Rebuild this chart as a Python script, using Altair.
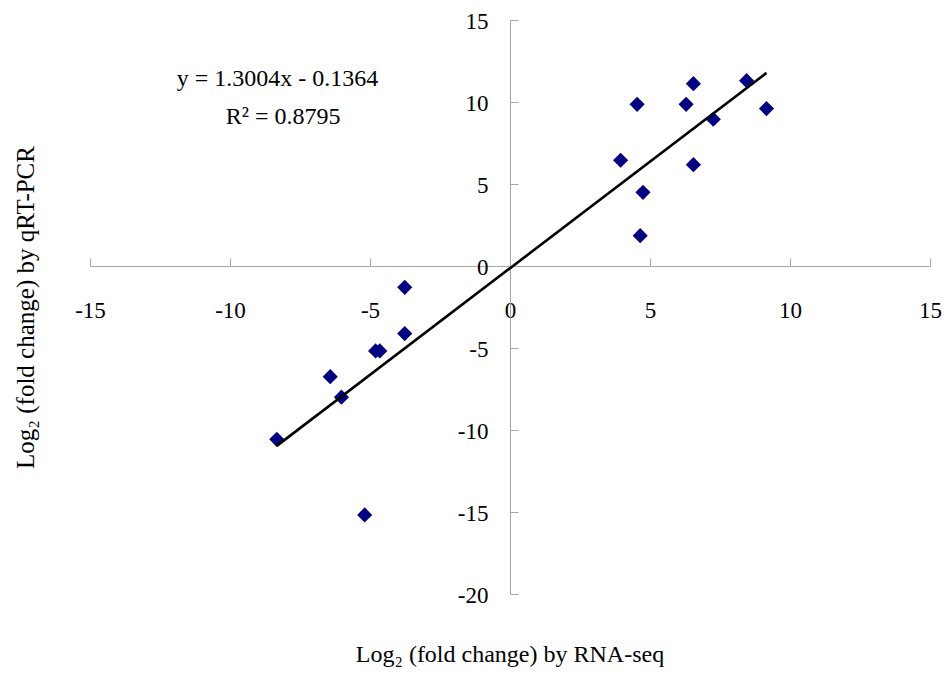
import altair as alt
import pandas as pd

# ---- data ----
rna_seq = [4.54, 6.55, 8.45, 6.29, 7.26, 9.16, 3.95, 6.55, 4.75, 4.65,
           -3.76, -3.76, -4.80, -4.65, -6.42, -6.02, -8.33, -5.19]
qrt_pcr = [9.86, 11.12, 11.30, 9.86, 8.95, 9.60, 6.45, 6.18, 4.49, 1.85,
           -1.30, -4.12, -5.18, -5.18, -6.75, -8.00, -10.57, -15.18]
x_ticks = [-15, -10, -5, 0, 5, 10, 15]
y_ticks = [-20, -15, -10, -5, 0, 5, 10, 15]
slope = 1.3004
intercept = -0.1364
eq_lines = ["y = 1.3004x - 0.1364", "R\u00b2 = 0.8795"]
eq_x = [-8.3, -8.1]
eq_y = [11.4, 9.1]

X_DOMAIN = [-15, 15]
Y_DOMAIN = [-20, 15]
W, H = 840, 574
FONT = "Liberation Serif"
AXIS_GRAY = "#a6a6a6"

df = pd.DataFrame({"x": rna_seq, "y": qrt_pcr})
line_df = pd.DataFrame({"x": [min(rna_seq), max(rna_seq)]})
line_df["y"] = slope * line_df["x"] + intercept
eq_df = pd.DataFrame({"label": eq_lines, "x": eq_x, "y": eq_y})

xscale = alt.Scale(domain=X_DOMAIN, nice=False, zero=False)
yscale = alt.Scale(domain=Y_DOMAIN, nice=False, zero=False)

# axes crossing at the origin
x_axis_offset = -H * (Y_DOMAIN[1] - 0) / (Y_DOMAIN[1] - Y_DOMAIN[0])
y_axis_offset = -W * (X_DOMAIN[1] - 0) / (X_DOMAIN[1] - X_DOMAIN[0])

x_axis = alt.Axis(
    orient="top", offset=x_axis_offset, values=x_ticks, title=None,
    grid=False, domainColor=AXIS_GRAY, tickColor=AXIS_GRAY, tickSize=8,
    labelFont=FONT, labelFontSize=23, labelColor="black",
    labelBaseline="middle", labelPadding=-52, labelAngle=0,
    labelFlush=False, labelOverlap=False, labelExpr="datum.value + ''",
)
y_axis = alt.Axis(
    orient="right", offset=y_axis_offset, values=y_ticks, title=None,
    grid=False, domainColor=AXIS_GRAY, tickColor=AXIS_GRAY, tickSize=8,
    labelFont=FONT, labelFontSize=23, labelColor="black",
    labelAlign="right", labelBaseline="middle", labelPadding=-30,
    labelOffset=1, labelFlush=False, labelOverlap=False,
    labelExpr="datum.value + ''",
)
y_title_axis = alt.Axis(
    orient="left", title="Log\u2082 (fold change) by qRT-PCR",
    titleFont=FONT, titleFontSize=25, titleFontWeight="normal",
    titleColor="black", titlePadding=52,
    labels=False, ticks=False, domain=False, grid=False,
)

points = alt.Chart(df).mark_point(
    shape="diamond", filled=True, size=230, color="#000080", opacity=1
).encode(
    x=alt.X("x:Q", scale=xscale, axis=x_axis),
    y=alt.Y("y:Q", scale=yscale, axis=y_axis),
)

trend = alt.Chart(line_df).mark_line(color="black", strokeWidth=2.6).encode(
    x=alt.X("x:Q", scale=xscale, axis=x_axis),
    y=alt.Y("y:Q", scale=yscale, axis=y_title_axis),
)

eq = alt.Chart(eq_df).mark_text(
    font=FONT, fontSize=24, color="black", align="center", baseline="middle"
).encode(
    x=alt.X("x:Q", scale=xscale, axis=x_axis),
    y=alt.Y("y:Q", scale=yscale, axis=None),
    text="label:N",
)

chart = alt.layer(points, trend, eq).resolve_axis(y="independent").properties(
    width=W, height=H,
    title=alt.TitleParams(
        text="Log\u2082 (fold change) by RNA-seq", orient="bottom",
        font=FONT, fontSize=24, fontWeight="normal", color="black",
        anchor="middle", offset=36,
    ),
    padding={"left": 5, "top": 2, "right": 0, "bottom": 0},
).configure_view(strokeWidth=0, stroke=None)

chart.save("out.html", embed_options={"renderer": "svg", "actions": False})
